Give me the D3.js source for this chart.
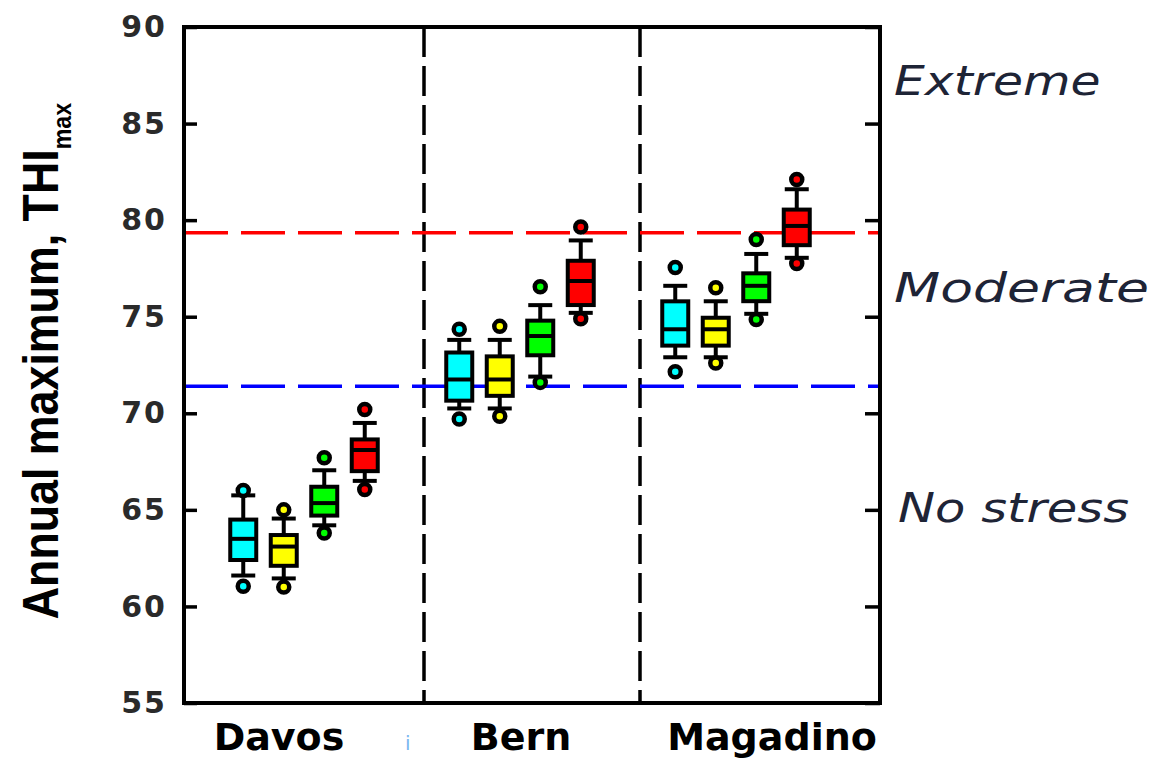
<!DOCTYPE html>
<html>
<head>
<meta charset="utf-8">
<script src="https://cdn.jsdelivr.net/npm/d3@7"></script>
<style>
  body { margin: 0; background: #fff; }
</style>
</head>
<body>
<div id="chart"></div>
<script>
//Stations and the four boxes drawn for each//
var stations = ["Davos", "Bern", "Magadino"];
var series = ["A", "B", "C", "D"];
var seriesColors = ["#00ffff", "#ffff00", "#00ff00", "#ff0000"];

//each row: low dot, low whisker, q1, median, q3, high whisker, high dot//
var davos = [
  [61.05, 61.6, 62.3, 63.5, 64.6, 65.75, 66.0],
  [61.0, 61.45, 62.0, 63.1, 63.8, 64.55, 65.0],
  [63.8, 64.2, 64.6, 65.35, 66.3, 67.05, 67.7],
  [66.05, 66.5, 66.9, 68.1, 68.75, 69.5, 70.2]
];
var bern = [
  [69.7, 70.25, 70.55, 71.75, 73.25, 73.8, 74.35],
  [69.85, 70.25, 70.8, 71.75, 73.05, 73.8, 74.5],
  [71.6, 71.9, 72.9, 74.0, 74.9, 75.6, 76.55],
  [74.9, 75.2, 75.5, 76.85, 78.0, 78.95, 79.65]
];
var magadino = [
  [72.15, 72.9, 73.4, 74.35, 75.9, 76.6, 77.55],
  [72.6, 72.9, 73.4, 74.35, 75.05, 75.8, 76.5],
  [74.85, 75.15, 75.7, 76.6, 77.35, 78.25, 79.0],
  [77.75, 78.05, 78.6, 79.7, 80.65, 81.6, 82.1]
];
var stationStats = [davos, bern, magadino];

//stress thresholds//
var thresholds = [79.35, 71.4];
var thresholdColors = ["#ff0000", "#0000ff"];

var zoneNames = ["Extreme", "Moderate", "No stress"];
var yTicks = [55, 60, 65, 70, 75, 80, 85, 90];

//svg element parameters//
var w = 1155;
var h = 760;
var plotL = 184, plotR = 880, plotT = 27, plotB = 703;

var svg = d3.select("#chart")
  .append("svg")
  .attr("width", w)
  .attr("height", h);

var y = d3.scaleLinear().domain([55, 90]).range([plotB, plotT]);

//station bands, the boxes sit a little left of the band centre//
var x = d3.scaleBand().domain(stations).range([208, 856]);
var inner = d3.scaleBand().domain(series).range([-93, 69]);

//Dividers between stations//
var dividers = stations.slice(1).map(function(s) { return x(s); });
svg.selectAll("line.divider")
  .data(dividers)
  .enter()
  .append("line")
  .attr("class", "divider")
  .attr("x1", function(d) { return d; })
  .attr("x2", function(d) { return d; })
  .attr("y1", plotT)
  .attr("y2", plotB)
  .attr("stroke", "#000")
  .attr("stroke-width", 3.5)
  .attr("stroke-dasharray", "30,9");

//Threshold lines//
svg.selectAll("line.thresh")
  .data(thresholds)
  .enter()
  .append("line")
  .attr("class", "thresh")
  .attr("x1", plotL)
  .attr("x2", plotR)
  .attr("y1", function(d) { return y(d); })
  .attr("y2", function(d) { return y(d); })
  .attr("stroke", function(d, i) { return thresholdColors[i]; })
  .attr("stroke-width", 3.5)
  .attr("stroke-dasharray", "44,13");

//Frame and inward ticks//
svg.append("rect")
  .attr("x", plotL)
  .attr("y", plotT)
  .attr("width", plotR - plotL)
  .attr("height", plotB - plotT)
  .attr("fill", "none")
  .attr("stroke", "#000")
  .attr("stroke-width", 4);

var yAxis = svg.append("g")
  .attr("transform", "translate(" + plotL + ",0)")
  .call(d3.axisLeft(y).tickValues(yTicks).tickSize(-13).tickPadding(17));
yAxis.select(".domain").remove();
yAxis.selectAll(".tick line").attr("stroke-width", 3.5);
yAxis.selectAll(".tick text")
  .attr("font-family", "DejaVu Sans, sans-serif")
  .attr("font-weight", "bold")
  .attr("font-size", "30px")
  .attr("letter-spacing", "2px")
  .attr("fill", "#2a2a2a");

var yAxisR = svg.append("g")
  .attr("transform", "translate(" + plotR + ",0)")
  .call(d3.axisRight(y).tickValues(yTicks).tickSize(-15).tickFormat(""));
yAxisR.select(".domain").remove();
yAxisR.selectAll(".tick line").attr("stroke-width", 3.5);

//Boxes, one group per station//
var boxes = [];
stationStats.forEach(function(rows, si) {
  rows.forEach(function(r, ki) {
    boxes.push({station: stations[si], series: series[ki], color: seriesColors[ki], v: r});
  });
});

function cx(d) { return x(d.station) + x.bandwidth() / 2 + inner(d.series) + inner.bandwidth() / 2; }

var g = svg.selectAll("g.box")
  .data(boxes)
  .enter()
  .append("g")
  .attr("class", "box");

//whisker stems//
g.append("line")
  .attr("x1", cx).attr("x2", cx)
  .attr("y1", function(d) { return y(d.v[1]); })
  .attr("y2", function(d) { return y(d.v[5]); })
  .attr("stroke", "#000")
  .attr("stroke-width", 4);

//whisker caps//
[1, 5].forEach(function(k) {
  g.append("line")
    .attr("x1", function(d) { return cx(d) - 12; })
    .attr("x2", function(d) { return cx(d) + 12; })
    .attr("y1", function(d) { return y(d.v[k]); })
    .attr("y2", function(d) { return y(d.v[k]); })
    .attr("stroke", "#000")
    .attr("stroke-width", 4);
});

g.append("rect")
  .attr("x", function(d) { return cx(d) - 13; })
  .attr("width", 26)
  .attr("y", function(d) { return y(d.v[4]) + 2; })
  .attr("height", function(d) { return y(d.v[2]) - y(d.v[4]) - 4; })
  .attr("fill", function(d) { return d.color; })
  .attr("stroke", "#000")
  .attr("stroke-width", 4);

g.append("line")
  .attr("x1", function(d) { return cx(d) - 13; })
  .attr("x2", function(d) { return cx(d) + 13; })
  .attr("y1", function(d) { return y(d.v[3]); })
  .attr("y2", function(d) { return y(d.v[3]); })
  .attr("stroke", "#000")
  .attr("stroke-width", 4);

//outer dots//
[0, 6].forEach(function(k) {
  g.append("circle")
    .attr("cx", cx)
    .attr("cy", function(d) { return y(d.v[k]); })
    .attr("r", 5.5)
    .attr("fill", function(d) { return d.color; })
    .attr("stroke", "#000")
    .attr("stroke-width", 4.5);
});

//Station names, nudged like the original//
var labelShift = [-37, -11, 24];
svg.selectAll("text.station")
  .data(stations)
  .enter()
  .append("text")
  .attr("class", "station")
  .attr("x", function(d, i) { return x(d) + x.bandwidth() / 2 + labelShift[i]; })
  .attr("y", 750)
  .attr("text-anchor", "middle")
  .attr("font-family", "DejaVu Sans, sans-serif")
  .attr("font-weight", "bold")
  .attr("font-size", "38px")
  .attr("fill", "#000")
  .text(function(d) { return d; });

//stray mark under the plot//
svg.append("text")
  .attr("x", dividers[0] - 19)
  .attr("y", 750)
  .attr("font-family", "DejaVu Sans, sans-serif")
  .attr("font-size", "20px")
  .attr("fill", "#7ab8f0")
  .text("i");

//Zone names on the right//
var zoneAt = [87.2, 76.5, 65.1];
var zoneStretch = [1.22, 1.34, 1.24];
svg.selectAll("text.zone")
  .data(zoneNames)
  .enter()
  .append("text")
  .attr("class", "zone")
  .attr("transform", function(d, i) {
    return "translate(" + (i == 2 ? 898 : 894) + "," + y(zoneAt[i]) + ") scale(" + zoneStretch[i] + ",1)";
  })
  .attr("dy", "0.36em")
  .attr("font-family", "DejaVu Sans, sans-serif")
  .attr("font-style", "italic")
  .attr("font-size", "40px")
  .attr("fill", "#1e2436")
  .text(function(d) { return d; });

//Y axis title, squeezed along its length//
var title = svg.append("text")
  .attr("transform", "translate(58,361) rotate(-90) scale(0.895,1)")
  .attr("text-anchor", "middle")
  .attr("font-family", "Liberation Sans Narrow, Liberation Sans, sans-serif")
  .attr("font-weight", "bold")
  .attr("font-size", "50px")
  .attr("fill", "#000");
title.append("tspan").text("Annual maximum, THI");
title.append("tspan")
  .attr("font-size", "26px")
  .attr("dy", "13")
  .text("max");
</script>
</body>
</html>
